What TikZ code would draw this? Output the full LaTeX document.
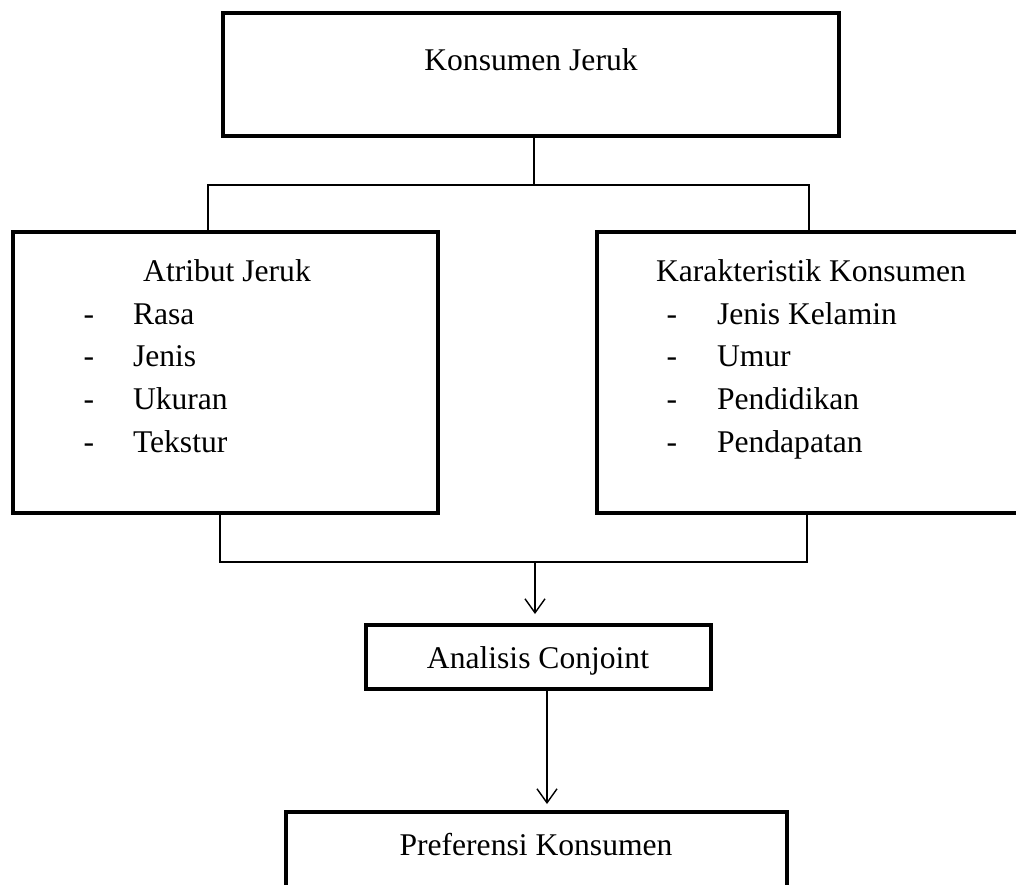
\documentclass[tikz,border=0pt]{standalone}
\usepackage{fontspec}
\setmainfont{Liberation Serif}
\usetikzlibrary{arrows.meta}
\begin{document}
\begin{tikzpicture}[x=1pt,y=-1pt,
  box/.style={draw=black, line width=4pt, inner sep=0pt, outer sep=0pt, fill=white},
  txt/.style={inner sep=0pt, outer sep=0pt, anchor=base, font=\fontsize{31.6pt}{38pt}\selectfont},
  itm/.style={txt, anchor=base west},
  dsh/.style={txt, anchor=base},
  conn/.style={draw=black, line width=1.4pt},
  arr/.style={conn, -{Straight Barb[length=14pt, width=20pt, line width=1.4pt]}}
]
\useasboundingbox (0,0) rectangle (1016,884);
\clip (0,0) rectangle (1016,884);

% boxes
\node[box, minimum width=616pt, minimum height=123pt] (top) at (531,74.5) {};
\node[box, minimum width=425pt, minimum height=281pt] (left) at (225.5,372.5) {};
\node[box, minimum width=428pt, minimum height=281pt] (right) at (811,372.5) {};
\node[box, minimum width=345pt, minimum height=64pt] (ana) at (538.5,657) {};
\node[box, minimum width=501pt, minimum height=120pt] (pref) at (536.5,872) {};

% texts
\node[txt] (ttop) at (531,70) {Konsumen Jeruk};
\node[txt] (tleft) at (227,281) {Atribut Jeruk};
\node[dsh] (ld1) at (89,324) {-};
\node[dsh] (ld2) at (89,366) {-};
\node[dsh] (ld3) at (89,409) {-};
\node[dsh] (ld4) at (89,452) {-};
\node[itm] (li1) at (133,324) {Rasa};
\node[itm] (li2) at (133,366) {Jenis};
\node[itm] (li3) at (133,409) {Ukuran};
\node[itm] (li4) at (133,452) {Tekstur};

\node[txt] (tright) at (811,281) {Karakteristik Konsumen};
\node[dsh] (rd1) at (672,324) {-};
\node[dsh] (rd2) at (672,366) {-};
\node[dsh] (rd3) at (672,409) {-};
\node[dsh] (rd4) at (672,452) {-};
\node[itm] (ri1) at (717,324) {Jenis Kelamin};
\node[itm] (ri2) at (717,366) {Umur};
\node[itm] (ri3) at (717,409) {Pendidikan};
\node[itm] (ri4) at (717,452) {Pendapatan};

\node[txt] (tana) at (538,668) {Analisis Conjoint};
\node[txt] (tpref) at (536,855) {Preferensi Konsumen};

% junction coordinates
\coordinate (jt) at (534,185);
\coordinate (jl) at (208,185);
\coordinate (jr) at (809,185);
\coordinate (bl) at (220,562);
\coordinate (br) at (807,562);
\coordinate (ba) at (535,562);
\coordinate (a2) at (547,689);

% connectors
\draw[conn] (top.south -| jt) -- (jt);
\draw[conn] (left.north -| jl) |- (jr) -- (right.north -| jr);
\draw[conn] (left.south -| bl) |- (br) -- (right.south -| br);
\draw[arr, shorten >=11pt] (ba) -- (ana.north -| ba);
\draw[arr, shorten >=8pt] (ana.south -| a2) -- (pref.north -| a2);
\end{tikzpicture}
\end{document}
